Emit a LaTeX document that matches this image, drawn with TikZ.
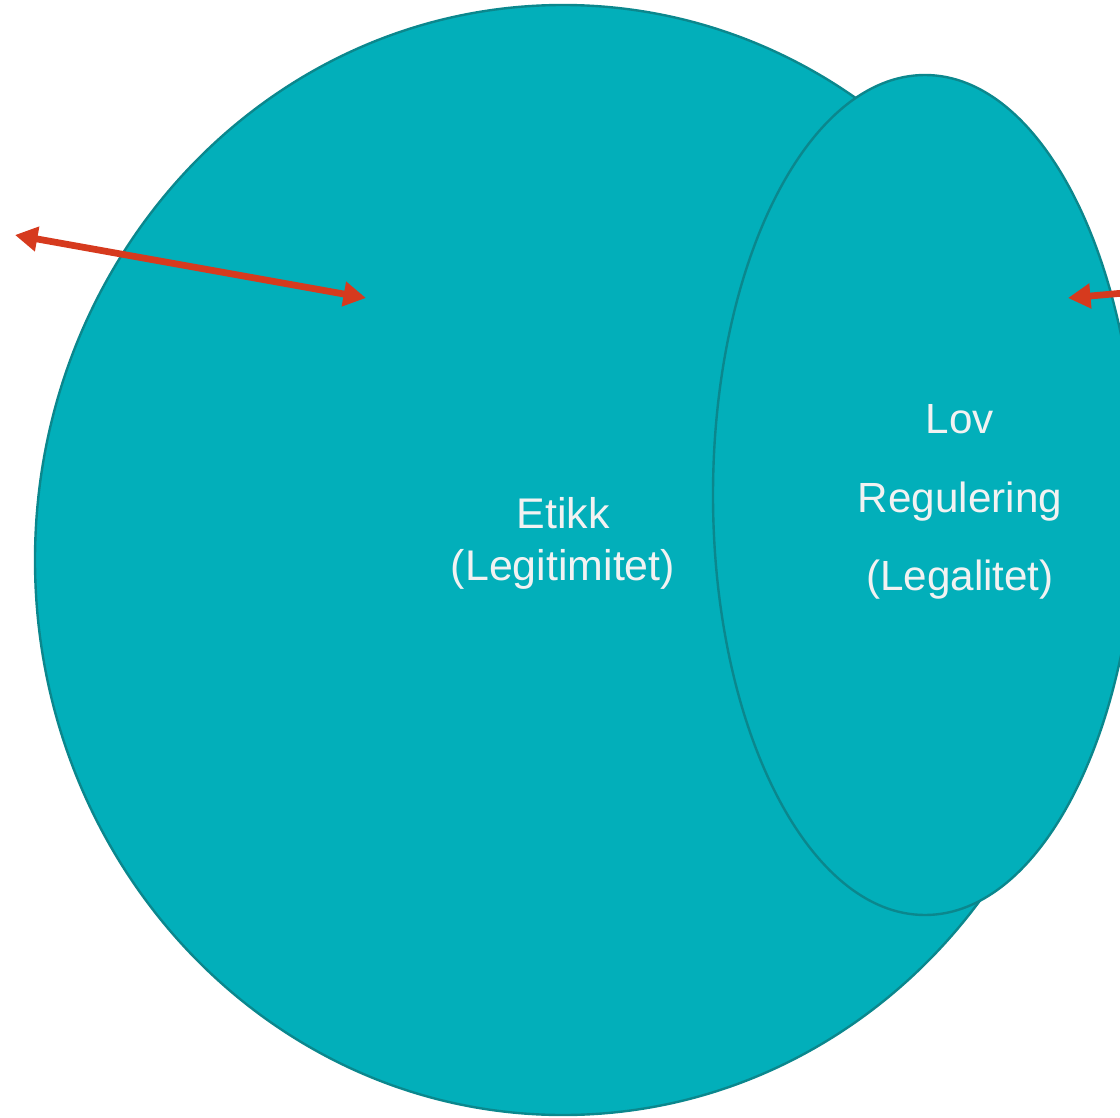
\documentclass[tikz,border=0pt]{standalone}
\usepackage{fontspec}
\setmainfont{Liberation Sans}
\usetikzlibrary{arrows.meta, shapes.geometric}
\definecolor{teal1}{HTML}{02AFBA}
\definecolor{teal2}{HTML}{0B878D}
\definecolor{redarr}{HTML}{D63A1E}
\definecolor{txt}{HTML}{F2F2F2}
\tikzset{
	blob/.style={ellipse, draw=teal2, fill=teal1, line width=1.7pt, inner sep=0pt},
	lbl/.style={text=txt, align=center, font=\fontsize{30.5}{37}\selectfont},
	pil/.style={draw=redarr, line width=4.8pt, {Triangle[length=16pt,width=17pt]}-{Triangle[length=16pt,width=17pt]}},
}
\begin{document}
\begin{tikzpicture}[x=0.025cm, y=-0.025cm]
	\useasboundingbox (0,0) rectangle (1120,1118);
	\clip (0,0) rectangle (1120,1118);
	% circles
	\node[blob, minimum width=1056*0.025cm, minimum height=1110*0.025cm] (etikk) at (563,560) {};
	\node[blob, minimum width=424*0.025cm, minimum height=840*0.025cm] (lov) at (925,495) {};
	% texts
	\node[lbl] (etikktxt) at (563,543) {Etikk\\(Legitimitet)};
	\node[lbl, font=\fontsize{30}{56}\selectfont] (lovtxt) at (960,502) {Lov\\Regulering\\(Legalitet)};
	% arrows
	\coordinate (a1) at (15,235);
	\coordinate (a2) at (366,298);
	\coordinate (b1) at (1135,292);
	\coordinate (b2) at (1068,298);
	\draw[pil] (a1) -- (a2);
	\draw[pil, {Triangle[length=16pt,width=17pt]}-] (b2) -- (b1);
\end{tikzpicture}
\end{document}
